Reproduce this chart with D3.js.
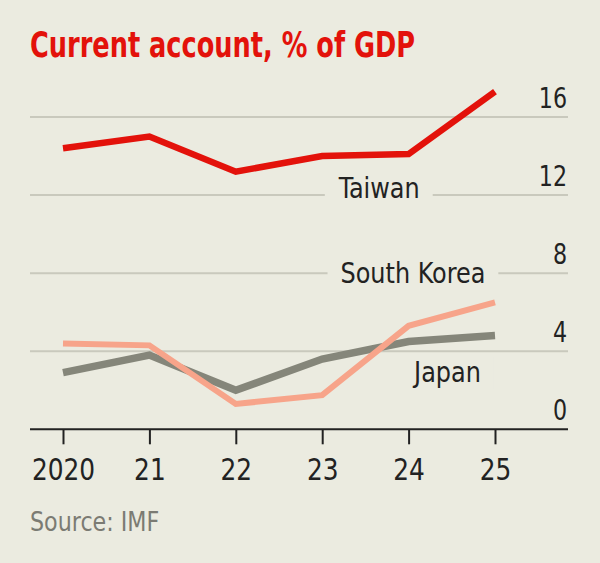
<!DOCTYPE html>
<html>
<head>
<meta charset="utf-8">
<script src="https://cdn.jsdelivr.net/npm/d3@7"></script>
<style>
  body { margin: 0; background: #ebebe0; }
  svg { display: block; }
  text { font-family: "Liberation Sans Narrow", "DejaVu Sans Condensed", "Liberation Sans", sans-serif; }
</style>
</head>
<body>
<script>
// chart data
const years = [2020, 2021, 2022, 2023, 2024, 2025];
const yearLabels = ["2020", "21", "22", "23", "24", "25"];
const taiwan = [14.4, 15.0, 13.2, 14.0, 14.1, 17.3];
const southKorea = [4.4, 4.3, 1.3, 1.75, 5.3, 6.5];
const japan = [2.9, 3.8, 2.0, 3.6, 4.5, 4.8];
const yTicks = [0, 4, 8, 12, 16];

const width = 600,
  height = 563;

const xScale = d3.scaleLinear().domain([2020, 2025]).range([63, 495]);
const yScale = d3.scaleLinear().domain([0, 16]).range([429.3, 117]);

// squeeze text horizontally to mimic the narrow house font
function condense(sel, factor) {
  sel.each(function () {
    const w = this.getComputedTextLength();
    d3.select(this)
      .attr("textLength", w * factor)
      .attr("lengthAdjust", "spacingAndGlyphs");
  });
}

const svg = d3
  .select("body")
  .append("svg")
  .attr("width", width)
  .attr("height", height);

svg.append("rect").attr("width", width).attr("height", height).attr("fill", "#ebebe0");

// title
svg
  .append("text")
  .attr("x", 30)
  .attr("y", 57)
  .attr("font-size", 35)
  .attr("font-weight", "bold")
  .attr("fill", "#e3120b")
  .attr("textLength", 385)
  .attr("lengthAdjust", "spacingAndGlyphs")
  .text("Current account, % of GDP");

// gridlines
svg
  .append("g")
  .selectAll("line")
  .data(yTicks.filter((d) => d !== 0))
  .enter()
  .append("line")
  .attr("x1", 30)
  .attr("x2", 568)
  .attr("y1", (d) => yScale(d))
  .attr("y2", (d) => yScale(d))
  .attr("stroke", "#c9c9bd")
  .attr("stroke-width", 2);

// y labels
svg
  .append("g")
  .selectAll("text")
  .data(yTicks)
  .enter()
  .append("text")
  .attr("x", 567)
  .attr("y", (d) => yScale(d) - 9)
  .attr("text-anchor", "end")
  .attr("font-size", 28)
  .attr("fill", "#222")
  .text((d) => d)
  .call(condense, 0.88);

// series labels, with background to break gridlines
const labels = [
  { name: "Taiwan", year: 2023.66, value: 11.85 },
  { name: "South Korea", year: 2024.05, value: 7.52 },
  { name: "Japan", year: 2024.45, value: 2.42 },
];

const labelG = svg.append("g");
labels.forEach((l) => {
  const g = labelG.append("g");
  const rect = g.append("rect").attr("fill", "#ebebe0");
  const t = g
    .append("text")
    .attr("x", xScale(l.year))
    .attr("y", yScale(l.value))
    .attr("text-anchor", "middle")
    .attr("font-size", 28)
    .attr("fill", "#222")
    .text(l.name)
    .call(condense, 0.95);
  const bb = t.node().getBBox();
  rect
    .attr("x", bb.x - 13)
    .attr("y", bb.y)
    .attr("width", bb.width + 26)
    .attr("height", bb.height);
});

// lines
const line = d3
  .line()
  .x((d, i) => xScale(years[i]))
  .y((d) => yScale(d));

const series = [
  { values: japan, color: "#85867a", w: 7.5 },
  { values: southKorea, color: "#f7a48a", w: 6 },
  { values: taiwan, color: "#e3120b", w: 6.5 },
];

svg
  .append("g")
  .selectAll("path")
  .data(series)
  .enter()
  .append("path")
  .attr("d", (d) => line(d.values))
  .attr("fill", "none")
  .attr("stroke", (d) => d.color)
  .attr("stroke-width", (d) => d.w)
  .attr("stroke-linejoin", "miter");

// x axis
const xAxis = d3
  .axisBottom(xScale)
  .tickValues(years)
  .tickFormat((d, i) => yearLabels[i])
  .tickSize(15)
  .tickPadding(14);

const axisG = svg
  .append("g")
  .attr("transform", `translate(0,${yScale(0)})`)
  .call(xAxis);

axisG.select(".domain").remove();
axisG.selectAll(".tick line").attr("stroke", "#222").attr("stroke-width", 2);
axisG
  .selectAll(".tick text")
  .attr("font-size", 30)
  .attr("font-family", null)
  .attr("fill", "#222")
  .call(condense, 0.92);

svg
  .append("line")
  .attr("x1", 30)
  .attr("x2", 568)
  .attr("y1", yScale(0))
  .attr("y2", yScale(0))
  .attr("stroke", "#222")
  .attr("stroke-width", 2);

// source
svg
  .append("text")
  .attr("x", 30)
  .attr("y", 531)
  .attr("font-size", 26)
  .attr("fill", "#7b7b73")
  .text("Source: IMF")
  .call(condense, 0.95);
</script>
</body>
</html>
